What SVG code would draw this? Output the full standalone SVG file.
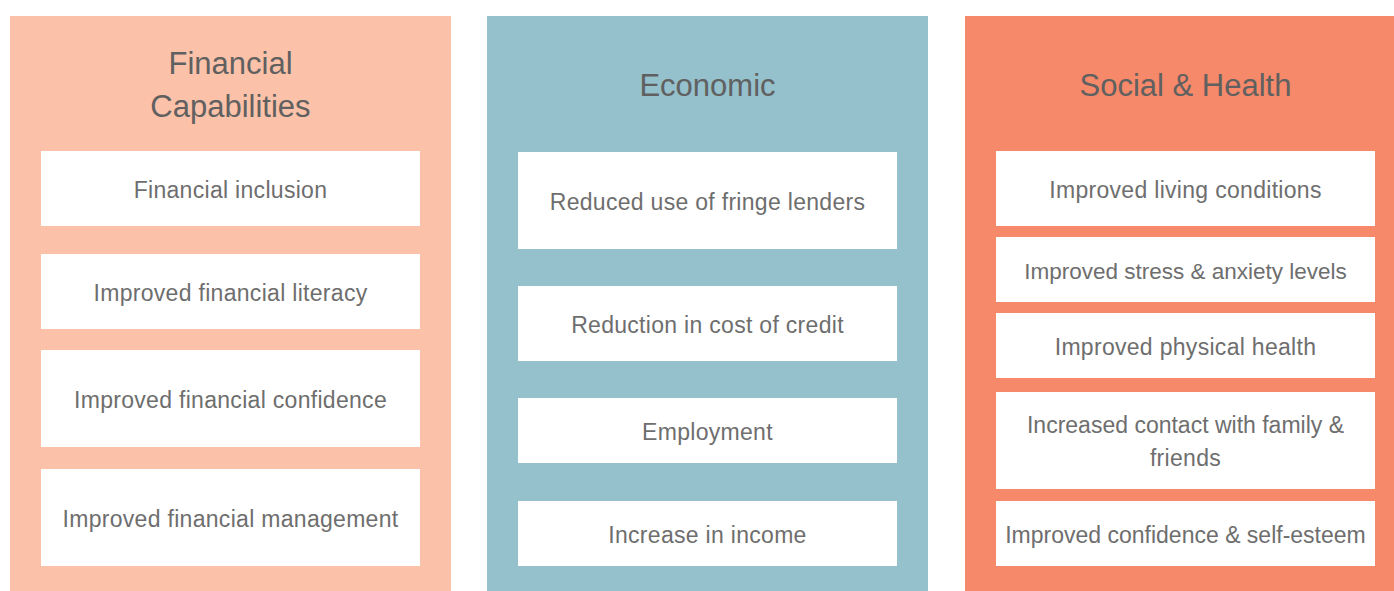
<svg xmlns="http://www.w3.org/2000/svg" width="1394" height="591" viewBox="0 0 1394 591">
<style>
.title{font-family:"Liberation Sans",Arial,sans-serif;font-size:31px;fill:#606060;text-anchor:middle}
.item{font-family:"Liberation Sans",Arial,sans-serif;font-size:23px;fill:#6e6e6e;text-anchor:middle;letter-spacing:0.3px}
.tight{letter-spacing:0px}
.box{fill:#ffffff}
</style>
<rect width="1394" height="591" fill="#ffffff"/>
<g id="financial">
<rect x="10" y="16" width="441" height="580" fill="#fcc2a9"/>
<text class="title" x="230.5" y="74">Financial</text>
<text class="title" x="230.5" y="117">Capabilities</text>
<g id="fin-1"><rect class="box" x="41" y="151" width="379" height="75"/><text class="item" x="230.5" y="198">Financial inclusion</text></g>
<g id="fin-2"><rect class="box" x="41" y="254" width="379" height="75"/><text class="item" x="230.5" y="301">Improved financial literacy</text></g>
<g id="fin-3"><rect class="box" x="41" y="350" width="379" height="97"/><text class="item" x="230.5" y="408">Improved financial confidence</text></g>
<g id="fin-4"><rect class="box" x="41" y="469" width="379" height="97"/><text class="item" x="230.5" y="527">Improved financial management</text></g>
</g>
<g id="economic">
<rect x="487" y="16" width="441" height="580" fill="#95c1cd"/>
<text class="title" x="707.5" y="96">Economic</text>
<g id="eco-1"><rect class="box" x="518" y="152" width="379" height="97"/><text class="item" x="707.5" y="210">Reduced use of fringe lenders</text></g>
<g id="eco-2"><rect class="box" x="518" y="286" width="379" height="75"/><text class="item" x="707.5" y="333">Reduction in cost of credit</text></g>
<g id="eco-3"><rect class="box" x="518" y="398" width="379" height="65"/><text class="item" x="707.5" y="440">Employment</text></g>
<g id="eco-4"><rect class="box" x="518" y="501" width="379" height="65"/><text class="item" x="707.5" y="543">Increase in income</text></g>
</g>
<g id="social">
<rect x="965" y="16" width="441" height="580" fill="#f5896a"/>
<text class="title" x="1185.5" y="96">Social &amp; Health</text>
<g id="soc-1"><rect class="box" x="996" y="151" width="379" height="75"/><text class="item" x="1185.5" y="198">Improved living conditions</text></g>
<g id="soc-2"><rect class="box" x="996" y="237" width="379" height="65"/><text class="item tight" x="1185.5" y="279" style="font-size:22.5px">Improved stress &amp; anxiety levels</text></g>
<g id="soc-3"><rect class="box" x="996" y="313" width="379" height="65"/><text class="item" x="1185.5" y="355">Improved physical health</text></g>
<g id="soc-4"><rect class="box" x="996" y="392" width="379" height="97"/><text class="item tight" x="1185.5" y="433">Increased contact with family &amp;</text><text class="item" x="1185.5" y="466">friends</text></g>
<g id="soc-5"><rect class="box" x="996" y="501" width="379" height="65"/><text class="item tight" x="1185.5" y="543">Improved confidence &amp; self-esteem</text></g>
</g>
<g id="connectors"/>
</svg>
